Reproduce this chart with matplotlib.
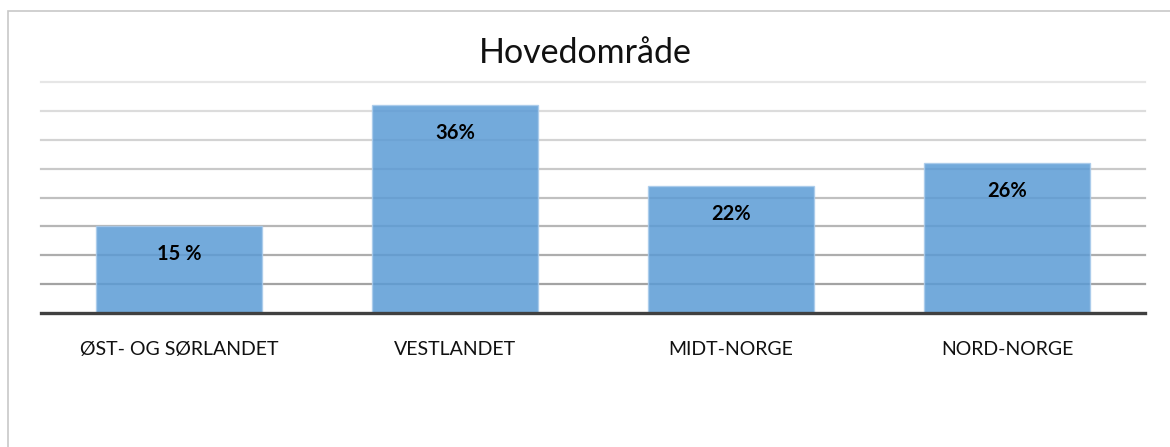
import numpy as np
import matplotlib
matplotlib.use("Agg")
from matplotlib import pyplot as plt
from matplotlib.patches import Rectangle

plt.rcParams['font.family'] = ['Lato', 'DejaVu Sans']

# data
regions = ["ØST- OG SØRLANDET", "VESTLANDET", "MIDT-NORGE", "NORD-NORGE"]
shares = [15, 36, 22, 26]
share_labels = ["15 %", "36%", "22%", "26%"]
title = "Hovedområde"

W, H = 1170, 447
fig = plt.figure(figsize=(W/100, H/100), dpi=100)

# outer chart frame (left + top visible)
fig.patches.append(Rectangle((8/W, -0.1), 1.2, (H-11)/H + 0.1, transform=fig.transFigure,
                             fill=False, edgecolor='#c8c8c8', linewidth=1.2))

ax = fig.add_axes([41/W, (H-313)/H, (1145-41)/W, (313-82)/H])
x = np.arange(len(regions))
ax.set_xlim(-0.5, len(regions)-0.5)
ax.set_ylim(0, 40)

# gridlines, lighter towards the top
ticks = np.arange(5, 41, 5)
greys = np.linspace(0.64, 0.90, len(ticks))
for t, g in zip(ticks, greys):
    ax.axhline(t, color=(g, g, g), linewidth=1.6, zorder=1, clip_on=False)

bars = ax.bar(x, shares, width=0.6, color='#5b9bd5', alpha=0.85,
              edgecolor='#a9cbeb', linewidth=1.0, zorder=2)

for b, lab in zip(bars, share_labels):
    ax.annotate(lab, (b.get_x() + b.get_width()/2, b.get_height()),
                xytext=(0, -28), textcoords='offset pixels',
                ha='center', va='center', fontsize=14.5, fontweight='bold',
                color='black', zorder=4)

ax.axhline(0, color='#404040', linewidth=2.4, zorder=3, clip_on=False)

for s in ax.spines.values():
    s.set_visible(False)
ax.set_yticks([])
ax.set_xticks(x)
ax.set_xticklabels(regions, fontsize=14, color='#111111')
ax.tick_params(axis='x', length=0, pad=20)

fig.text(585/W, (H-53)/H, title, ha='center', va='center', fontsize=24.5, color='#111111')

fig.savefig("out.png", dpi=100)
